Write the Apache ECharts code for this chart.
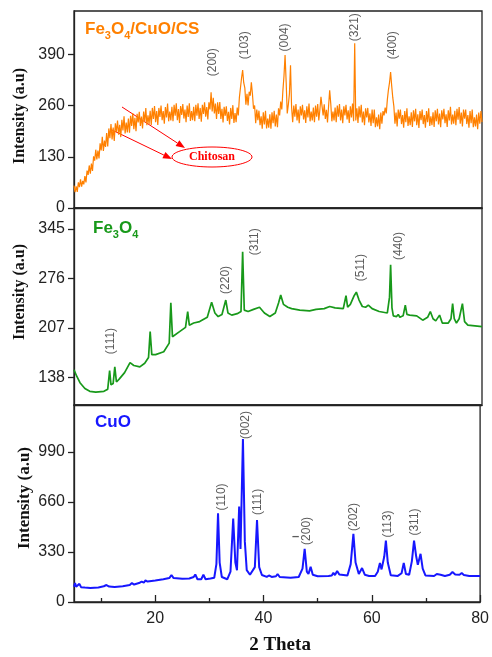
<!DOCTYPE html>
<html>
<head>
<meta charset="utf-8">
<script src="https://cdn.jsdelivr.net/npm/echarts@6/dist/echarts.min.js"></script>
<style>
html,body{margin:0;padding:0;background:#fff;}
#chart{width:492px;height:657px;}
</style>
</head>
<body>
<div id="chart"></div>
<script>
// ---------- DATA ----------
// Fe3O4/CuO/CS pattern: values every 0.2 degree from 5 to 80 (one row = one degree)
var csStart = 5, csStep = 0.2;
var csValues = [
  57,40,55,41,65,   53,73,54,69,60,   81,65,95,84,108,  87,113,94,131,120,
  148,123,146,126,164, 146,181,145,171,155, 190,156,202,177,213, 174,204,170,215,193,
  222,186,211,180,224, 197,233,189,217,192, 227,191,234,208,241, 200,229,195,239,217,
  244,208,232,202,245, 218,254,210,235,213, 247,211,254,226,259, 218,246,211,254,231,
  260,223,246,214,256, 230,265,220,245,222, 257,220,262,234,266, 223,251,216,259,236,
  264,227,250,218,260, 231,266,221,246,223, 257,220,262,234,266, 226,254,219,262,239,
  268,232,256,225,268, 250,294,245,280,240, 265,226,268,239,269, 226,252,217,257,234,
  258,221,244,212,254, 226,261,216,241,218, 255,235,280,277,330, 350,318,305,262,290,
  260,295,285,319,290, 252,260,215,250,223, 247,210,233,201,243, 212,247,202,227,204,
  238,201,243,215,247, 207,237,205,253,235, 270,250,298,335,388, 320,240,262,290,362,
  255,218,260,232,264, 222,250,215,258,235, 262,225,248,216,258, 230,265,220,245,222,
  255,218,260,232,264, 222,250,282,258,235, 263,226,249,217,259, 299,265,220,245,222,
  255,218,260,232,264, 222,250,215,258,235, 262,225,248,216,258, 230,265,220,418,222,
  253,216,258,230,262, 217,245,210,253,230, 254,217,240,208,250, 215,250,205,230,207,
  237,200,242,214,246, 235,255,240,275,300, 318,345,310,280,258, 214,242,207,250,227,
  250,213,236,204,246, 218,253,208,233,210, 243,206,248,220,252, 210,238,203,246,223,
  250,213,236,204,246, 218,253,208,233,210, 243,206,248,220,252, 212,240,205,248,225,
  252,215,238,206,248, 222,257,212,237,214, 247,210,252,224,256, 214,242,207,250,227,
  250,213,236,204,246, 215,250,205,230,207, 237,200,242,214,246,
  218
];

// Fe3O4 pattern
var feX = [5,5.5,6.1,7,7.9,9,10.5,11.2,11.55,11.8,12.2,12.5,12.8,13.3,14.3,15.3,16,17.1,18,18.7,19,19.3,20,21.5,22.5,22.8,23.1,24.4,25.5,25.9,26.2,27,28.1,29.5,30.3,30.9,31.5,32.2,32.9,33.3,34,35,35.7,36,36.3,37,38,39.1,40,41,42,42.6,43,43.5,44.3,45,46.5,48.3,49.5,51,52,53,54.5,55,55.3,55.8,56.5,56.9,57.4,58,58.6,59.1,59.8,61.1,62.6,63,63.2,63.45,63.7,64.3,64.6,64.9,65.5,65.9,66.2,66.7,68,69.1,70,70.5,71,71.5,72.2,72.7,73.8,74.3,74.6,74.9,75.3,75.8,76.4,76.8,77.4,80];
var feY = [149,140,131,123,119,118,119,122,148,128,130,153,132,136,145,159,155,153,158,166,202,170,170,174,186,242,195,202,208,230,211,214,216,222,243,228,223,226,246,228,225,227,230,313,232,230,233,236,228,223,228,242,253,240,236,234,232,231,233,234,237,235,234,252,236,240,252,257,246,237,236,239,234,230,228,250,295,235,224,223,226,222,224,239,226,225,224,218,222,230,220,217,225,214,214,220,241,220,214,220,241,216,211,209];

// CuO pattern
var cuoX = [5,5.2,5.4,5.7,6,6.3,7,8,9.5,10.5,11,11.5,12.5,14,15.3,15.7,16.1,17,17.5,17.9,18.2,18.6,20,21.5,22.6,23,23.4,25,26.3,27.1,27.4,27.8,28.5,28.9,29.3,30.2,30.9,31.3,31.6,31.9,32.3,33.3,33.9,34.4,34.8,35.1,35.5,35.75,36.2,36.55,36.9,37.5,38.4,38.8,39.2,39.7,40.6,41,41.5,42.3,42.6,43,45,46.5,47.2,47.6,48,48.3,48.7,49.1,50,52,52.6,52.9,53.2,53.6,54,55.5,56.1,56.6,57,57.6,58.2,58.7,59.5,60.6,61.1,61.5,61.8,62.3,62.6,62.95,63.5,64.8,65.5,65.9,66.3,66.9,67.4,67.8,68.2,68.5,69,69.4,69.9,71.5,72,72.3,72.7,73.5,74.4,74.9,75.4,76.2,76.6,77,78,80];
var cuoY = [100,125,100,100,120,98,95,92,96,104,112,102,99,104,112,125,115,125,135,128,142,135,142,150,158,178,158,154,155,165,182,150,150,180,150,155,160,250,585,260,165,150,200,550,260,210,630,350,1075,400,210,180,230,540,230,178,166,175,165,170,185,165,160,165,220,350,200,185,232,180,170,172,175,192,178,205,182,175,250,450,260,185,224,180,172,172,200,257,215,300,405,260,176,172,190,258,185,180,270,405,300,245,318,220,175,172,185,198,180,172,180,198,182,180,191,178,172,172];

// Peak labels [2theta, intensity, text]
var csPeaks  = [[30.5,370,'(200)'],[36.4,413,'(103)'],[43.7,433,'(004)'],[56.6,459,'(321)'],[63.5,413,'(400)']];
var fePeaks  = [[11.8,189,'(111)'],[32.9,274,'(220)'],[38.2,327,'(311)'],[57.7,291,'(511)'],[64.6,321,'(440)']];
var cuoPeaks = [[32.2,693,'(110)'],[36.7,1168,'(002)'],[39.0,660,'(111)'],[47.9,469,'(200)'],[56.6,561,'(202)'],[63.0,515,'(113)'],[67.9,528,'(311)']];
var cuoBar   = [[45.95,432,'\u2013']]; // bar over the 2 of (-200)

// Axis ticks
var xTickLabels = [20,40,60,80];
var xMinorTicks = [10,30,50,70];
var csYTicks = [0,130,260,390];
var feYTicks = [138,207,276,345];
var cuoYTicks = [0,330,660,990];

// ---------- BUILD ----------
var csData = csValues.map(function(v,i){ return [+(csStart + i*csStep).toFixed(2), v]; });
var feData = feX.map(function(x,i){ return [x, feY[i]]; });
var cuoData = cuoX.map(function(x,i){ return [x, cuoY[i]]; });
function peakData(arr){ return arr.map(function(p){ return {value:[p[0],p[1]], name:p[2]}; }); }

var AX = '#222';
var gridL = 74, gridR = 10;
var grids = [
  {left:gridL, right:gridR, top:11, height:197},
  {left:gridL, right:gridR, top:208, height:197},
  {left:gridL, right:gridR, top:405, height:197}
];
grids.forEach(function(g){ g.show = true; g.borderColor = AX; g.borderWidth = 1.3; g.backgroundColor = 'transparent'; });

function xAx(i, showLabels){
  return {
    type:'value', gridIndex:i, min:5, max:80,
    axisLine:{show:true, onZero:false, lineStyle:{color:AX, width:1.3}},
    axisTick:{show:showLabels, inside:true, length:7, customValues:xTickLabels, lineStyle:{color:AX, width:1.3}},
    axisLabel:{show:showLabels, customValues:xTickLabels, fontSize:16, color:'#222', margin:9, fontFamily:'Liberation Sans'},
    splitLine:{show:false}
  };
}
function yAx(i, mn, mx, ticks){
  return {
    type:'value', gridIndex:i, min:mn, max:mx,
    axisLine:{show:true, onZero:false, lineStyle:{color:AX, width:1.3}},
    axisTick:{show:true, inside:false, length:6, customValues:ticks, lineStyle:{color:AX, width:1.3}},
    axisLabel:{show:true, customValues:ticks, fontSize:16, color:'#222', margin:9, fontFamily:'Liberation Sans'},
    splitLine:{show:false}
  };
}
var xAxes = [xAx(0,false), xAx(1,false), xAx(2,true)];
xAxes.push({
  type:'value', gridIndex:2, min:5, max:80, position:'bottom',
  axisLine:{show:false}, axisLabel:{show:false}, splitLine:{show:false},
  axisTick:{show:true, inside:true, length:4, customValues:xMinorTicks, lineStyle:{color:AX, width:1.3}}
});
var yAxes = [yAx(0,0,500,csYTicks), yAx(1,100,374,feYTicks), yAx(2,0,1300,cuoYTicks)];

function labelSeries(i, arr, rot, fw, fs){
  return {
    type:'scatter', xAxisIndex:i, yAxisIndex:i, symbolSize:0, silent:true,
    data: peakData(arr),
    label:{show:true, position:'inside', rotate:rot, formatter:'{b}', fontSize:fs, fontWeight:fw, color:'#333', fontFamily:'Liberation Sans'}
  };
}

var ORANGE = '#FF8000', GREEN = '#18991a', BLUE = '#1717ff';

function title(x, y, color, parts){
  return {
    type:'text', x:x, y:y,
    style:{
      text: parts, fill: color,
      verticalAlign:'middle', align:'left',
      rich:{
        m:{fontSize:17, fontWeight:'bold', fontFamily:'Liberation Sans', fill:color, lineHeight:24, verticalAlign:'middle'},
        s:{fontSize:11, fontWeight:'bold', fontFamily:'Liberation Sans', fill:color, lineHeight:24, verticalAlign:'bottom'}
      }
    }
  };
}
function vname(x, y, size){
  return {type:'text', x:x, y:y, rotation:Math.PI/2,
    style:{text:'Intensity (a.u)', font:'bold '+size+'px "Liberation Serif"', fill:'#111', align:'center', verticalAlign:'middle'}};
}
function arrow(x1,y1,x2,y2){
  var dx=x2-x1, dy=y2-y1, L=Math.sqrt(dx*dx+dy*dy); dx/=L; dy/=L;
  var bx=x2-9*dx, by=y2-9*dy, px=-dy, py=dx;
  return [
    {type:'line', shape:{x1:x1,y1:y1,x2:bx,y2:by}, style:{stroke:'#f00', lineWidth:1}},
    {type:'polygon', shape:{points:[[x2,y2],[bx+3.5*px,by+3.5*py],[bx-3.5*px,by-3.5*py]]}, style:{fill:'#f00'}}
  ];
}

var graphics = [
  title(85, 29, ORANGE, '{m|Fe}{s|3}{m|O}{s|4}{m|/CuO/CS}'),
  title(93, 228, GREEN, '{m|Fe}{s|3}{m|O}{s|4}'),
  title(95, 422, BLUE, '{m|CuO}'),
  vname(20, 116, 16), vname(20, 292, 16), vname(25, 498, 17),
  {type:'text', x:280, y:645, style:{text:'2 Theta', font:'bold 19px "Liberation Serif"', fill:'#111', align:'center', verticalAlign:'middle'}},
  {type:'ellipse', shape:{cx:212, cy:157, rx:40, ry:10}, style:{fill:'#fff', stroke:'#f00', lineWidth:1}},
  {type:'text', x:212, y:157, style:{text:'Chitosan', font:'bold 12px "Liberation Serif"', fill:'#f00', align:'center', verticalAlign:'middle'}}
].concat(arrow(110,129,172,159)).concat(arrow(122,107,185,148));

var option = {
  animation:false,
  backgroundColor:'#fff',
  grid: grids,
  xAxis: xAxes,
  yAxis: yAxes,
  series: [
    {type:'line', xAxisIndex:0, yAxisIndex:0, data:csData, symbol:'none', lineStyle:{color:ORANGE, width:1.2}, silent:true},
    {type:'line', xAxisIndex:1, yAxisIndex:1, data:feData, symbol:'none', lineStyle:{color:GREEN, width:1.7}, silent:true},
    {type:'line', xAxisIndex:2, yAxisIndex:2, data:cuoData, symbol:'none', lineStyle:{color:BLUE, width:2}, silent:true},
    labelSeries(0, csPeaks, 90, 'normal', 12), labelSeries(1, fePeaks, 90, 'normal', 12), labelSeries(2, cuoPeaks, 90, 'normal', 12),
    labelSeries(2, cuoBar, 0, 'bold', 13)
  ],
  graphic: graphics
};
var chart = echarts.init(document.getElementById('chart'), null, {renderer:'canvas'});
chart.setOption(option);
</script>
</body>
</html>
